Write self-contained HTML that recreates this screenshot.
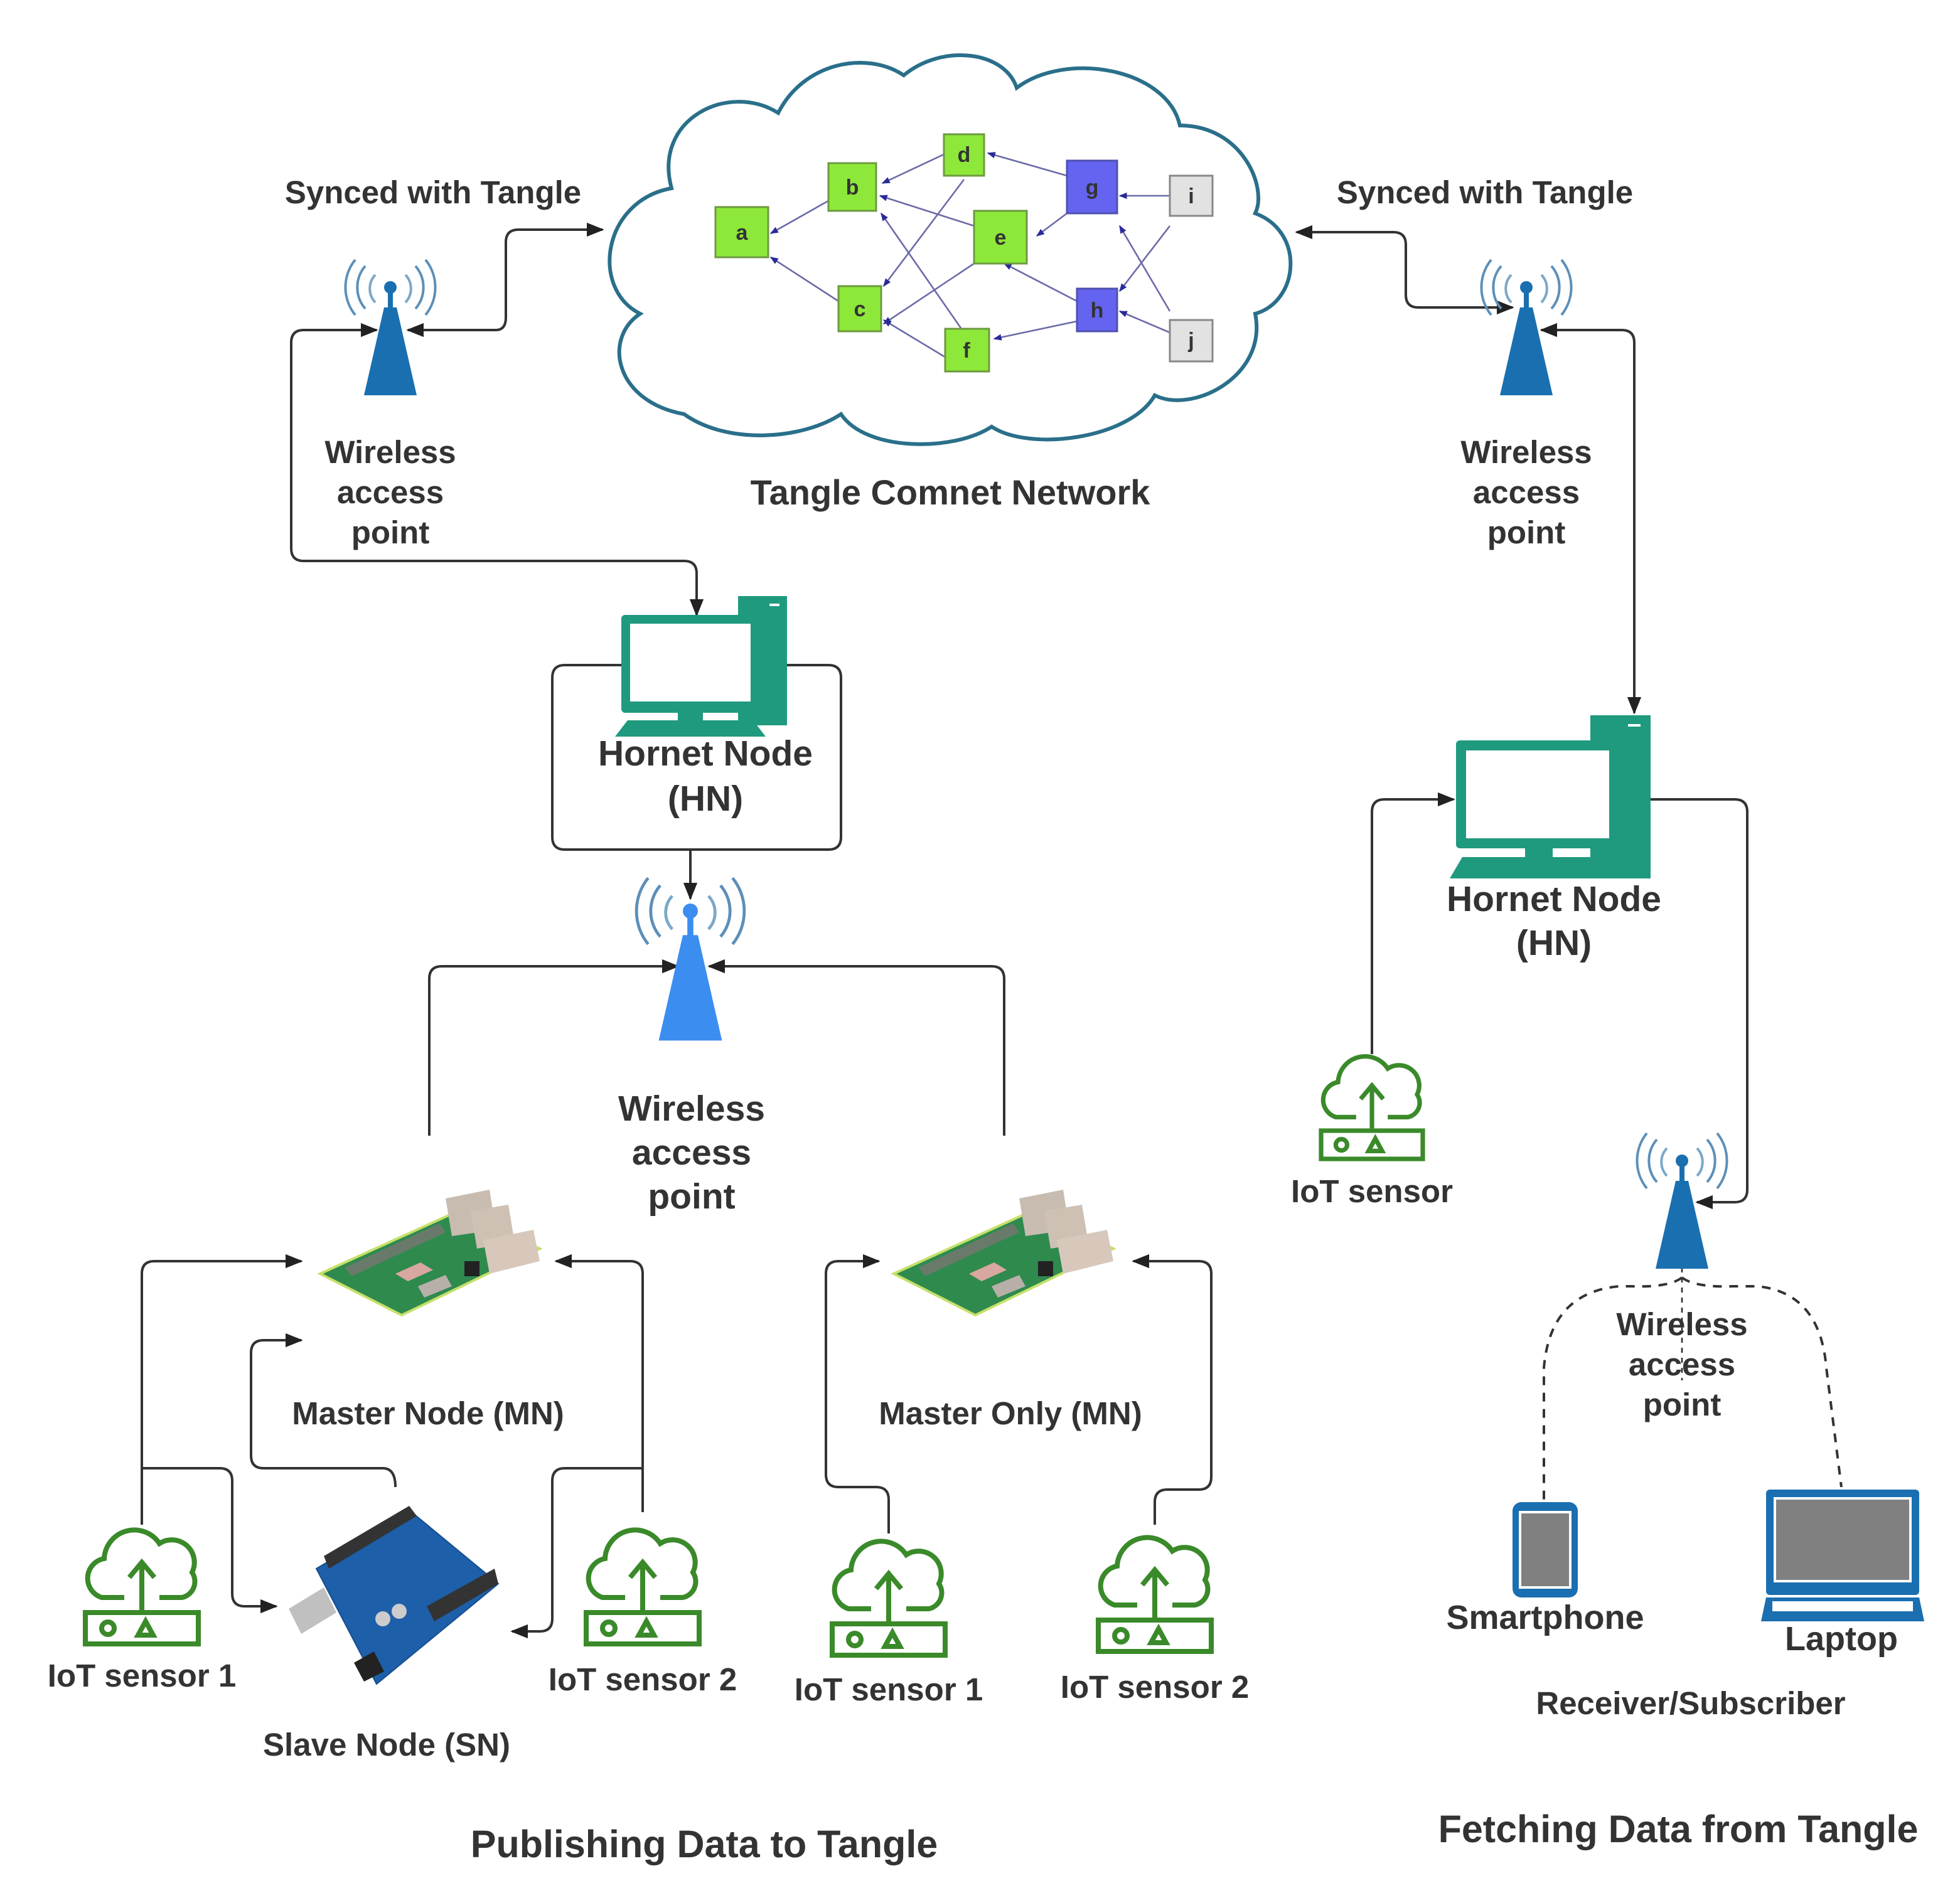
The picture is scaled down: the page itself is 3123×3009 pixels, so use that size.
<!DOCTYPE html>
<html><head><meta charset="utf-8"><style>
html,body{margin:0;padding:0;background:#fff;}
svg{display:block;}
text{font-family:"Liberation Sans",sans-serif;font-weight:bold;fill:#333;text-anchor:middle;}
</style></head><body>
<svg width="3123" height="3009" viewBox="0 0 1561.5 1504.5" xmlns="http://www.w3.org/2000/svg">
<defs>
<marker id="ar" viewBox="0 0 10 10" refX="9" refY="5" markerWidth="7" markerHeight="7" orient="auto-start-reverse"><path d="M0,1 L10,5 L0,9 z" fill="#222"/></marker>
<marker id="sa" viewBox="0 0 10 10" refX="9" refY="5" markerWidth="5" markerHeight="5" orient="auto"><path d="M0,1 L10,5 L0,9 z" fill="#2a2a9a"/></marker>
<g id="sensor" fill="none" stroke="#3a8a2a" stroke-width="4">
<path d="M-14,-12 H-32 A16,16 0 0 1 -30,-43 A24,24 0 0 1 14,-55 A18,18 0 0 1 40,-32 A13,13 0 0 1 32,-12 H14"/>
<line x1="0" y1="-2" x2="0" y2="-38"/><polyline points="-10,-28 0,-40 10,-28"/>
<rect x="-45" y="0" width="90" height="25"/><circle cx="-27" cy="12.5" r="5"/><polygon points="-3,18 9,18 3,7"/>
</g>
<g id="tower">
<g fill="none" stroke-width="2">
<path d="M-12,-10 A16,16 0 0 0 -12,12" stroke="#7aa8c8"/><path d="M12,-10 A16,16 0 0 1 12,12" stroke="#7aa8c8"/>
<path d="M-20,-17 A26,26 0 0 0 -20,17" stroke="#5c8fb8"/><path d="M20,-17 A26,26 0 0 1 20,17" stroke="#5c8fb8"/>
<path d="M-28,-22 A35,35 0 0 0 -28,22" stroke="#5c8fb8"/><path d="M28,-22 A35,35 0 0 1 28,22" stroke="#5c8fb8"/>
</g>
<circle cx="0" cy="0" r="5"/><rect x="-2" y="0" width="4" height="18"/>
<polygon points="-5,16 5,16 21,86 -21,86"/>
</g>
<g id="pi">
<polygon points="0,55 110,5 175,35 65,88" fill="#2f8a4e" stroke="#c6e06a" stroke-width="2"/>
<polygon points="20,50 95,15 100,22 25,57" fill="#6a7a6a"/>
<polygon points="60,55 80,46 90,52 70,61" fill="#d8a8a0"/>
<polygon points="100,-5 135,-12 140,20 105,25" fill="#c8bcb0"/>
<polygon points="120,5 150,0 155,30 125,35" fill="#cfc0b4"/>
<polygon points="130,28 170,20 175,45 135,55" fill="#d8c8bc"/>
<polygon points="78,65 100,56 105,65 83,74" fill="#b8b0a8"/>
<rect x="115" y="45" width="12" height="12" fill="#222"/>
</g>
</defs>

<path d="M545,330 C490,320 480,270 510,250 C470,230 480,160 535,150 C520,95 580,65 620,90 C640,50 690,40 720,60 C750,35 800,40 810,70 C850,40 930,55 940,100 C990,100 1010,150 1000,170 C1040,185 1035,240 1000,250 C1010,300 950,330 920,315 C900,350 820,360 790,340 C760,360 690,360 670,330 C640,350 580,355 545,330 Z" fill="#fff" stroke="#2a6f8a" stroke-width="3"/>
<g stroke="#6a6aa8" stroke-width="1.3" marker-end="url(#sa)">
<line x1="752" y1="123" x2="703" y2="146"/>
<line x1="660" y1="160" x2="614" y2="186"/>
<line x1="668" y1="240" x2="614" y2="205"/>
<line x1="850" y1="140" x2="787" y2="122"/>
<line x1="776" y1="180" x2="701" y2="156"/>
<line x1="768" y1="265" x2="702" y2="170"/>
<line x1="768" y1="143" x2="704" y2="228"/>
<line x1="776" y1="210" x2="704" y2="258"/>
<line x1="762" y1="290" x2="704" y2="255"/>
<line x1="858" y1="240" x2="800" y2="210"/>
<line x1="858" y1="256" x2="792" y2="270"/>
<line x1="850" y1="170" x2="826" y2="188"/>
<line x1="932" y1="156" x2="892" y2="156"/>
<line x1="932" y1="180" x2="892" y2="232"/>
<line x1="932" y1="265" x2="892" y2="248"/>
<line x1="932" y1="248" x2="892" y2="180"/>
</g>
<g stroke="#6c9a40" stroke-width="1.5">
<rect x="570" y="165" width="42" height="40" fill="#8ee83a"/><rect x="660" y="130" width="38" height="38" fill="#8ee83a"/>
<rect x="668" y="228" width="34" height="36" fill="#8ee83a"/><rect x="752" y="107" width="32" height="33" fill="#8ee83a"/>
<rect x="776" y="168" width="42" height="42" fill="#8ee83a"/><rect x="753" y="262" width="35" height="34" fill="#8ee83a"/>
<rect x="850" y="128" width="40" height="42" fill="#6464f0" stroke="#5050b0"/><rect x="858" y="230" width="32" height="34" fill="#6464f0" stroke="#5050b0"/>
<rect x="932" y="140" width="34" height="32" fill="#e2e2e2" stroke="#888"/><rect x="932" y="255" width="34" height="33" fill="#e2e2e2" stroke="#888"/>
</g>
<g font-size="17" style="fill:#111">
<text x="591" y="191">a</text><text x="679" y="155">b</text><text x="685" y="252">c</text><text x="768" y="129">d</text>
<text x="797" y="195">e</text><text x="770" y="285">f</text><text x="870" y="155">g</text><text x="874" y="253">h</text>
<text x="949" y="162">i</text><text x="949" y="277">j</text>
</g>

<g fill="none" stroke="#333" stroke-width="2">
<path d="M325,263 H395 Q403,263 403,253 V193 Q403,183 413,183 H480" marker-start="url(#ar)" marker-end="url(#ar)"/>
<path d="M300,263 H242 Q232,263 232,273 V437 Q232,447 242,447 H545 Q555,447 555,457 V490" marker-start="url(#ar)" marker-end="url(#ar)"/>
<path d="M495,530 H450 Q440,530 440,540 V667 Q440,677 450,677 H660 Q670,677 670,667 V540 Q670,530 660,530 H627"/>
<path d="M550,677 V716" marker-end="url(#ar)"/>
<path d="M342,905 V780 Q342,770 352,770 H540" marker-end="url(#ar)"/>
<path d="M800,905 V780 Q800,770 790,770 H565" marker-end="url(#ar)"/>
<path d="M113,1215 V1015 Q113,1005 123,1005 H240" marker-end="url(#ar)"/>
<path d="M113,1170 H175 Q185,1170 185,1180 V1270 Q185,1280 195,1280 H220" marker-end="url(#ar)"/>
<path d="M315,1185 Q315,1170 305,1170 H210 Q200,1170 200,1160 V1078 Q200,1068 210,1068 H240" marker-end="url(#ar)"/>
<path d="M512,1205 V1015 Q512,1005 502,1005 H443" marker-end="url(#ar)"/>
<path d="M512,1170 H450 Q440,1170 440,1180 V1290 Q440,1300 430,1300 H408" marker-end="url(#ar)"/>
<path d="M708,1222 V1195 Q708,1185 698,1185 H668 Q658,1185 658,1175 V1015 Q658,1005 668,1005 H700" marker-end="url(#ar)"/>
<path d="M920,1215 V1197 Q920,1187 930,1187 H955 Q965,1187 965,1177 V1015 Q965,1005 955,1005 H903" marker-end="url(#ar)"/>
<path d="M1205,245 H1130 Q1120,245 1120,235 V195 Q1120,185 1110,185 H1033" marker-start="url(#ar)" marker-end="url(#ar)"/>
<path d="M1228,263 H1292 Q1302,263 1302,273 V568" marker-start="url(#ar)" marker-end="url(#ar)"/>
<path d="M1093,840 V647 Q1093,637 1103,637 H1158" marker-end="url(#ar)"/>
<path d="M1315,637 H1382 Q1392,637 1392,647 V948 Q1392,958 1382,958 H1352" marker-end="url(#ar)"/>
<g stroke-dasharray="7,6">
<path d="M1340,1018 Q1330,1026 1300,1025 H1290 Q1235,1030 1230,1090 V1195"/>
<path d="M1340,1018 Q1350,1026 1380,1025 H1400 Q1450,1030 1455,1090 L1467,1185"/>
<path d="M1340,1010 V1100" stroke-dasharray="4,4" stroke-width="1.3"/>
</g>
</g>

<use href="#tower" x="311" y="229" fill="#1a6fb0"/>
<use href="#tower" x="1216" y="229" fill="#1a6fb0"/>
<use href="#tower" x="1340" y="925" fill="#1a6fb0"/>
<g transform="translate(550,726) scale(1.2)" fill="#3b8ef0"><use href="#tower"/></g>

<g fill="#1f9a7e">
<rect x="588" y="475" width="39" height="103"/><rect x="613" y="481" width="8" height="2" fill="#fff"/>
<rect x="495" y="490" width="110" height="78" rx="3"/><rect x="502" y="497" width="96" height="62" fill="#fff"/>
<rect x="540" y="568" width="20" height="6"/><polygon points="500,574 600,574 610,587 490,587"/>
<rect x="1267" y="570" width="48" height="130"/><rect x="1297" y="577" width="10" height="2" fill="#fff"/>
<rect x="1160" y="590" width="130" height="86" rx="3"/><rect x="1168" y="598" width="114" height="70" fill="#fff"/>
<rect x="1215" y="676" width="22" height="7"/><polygon points="1165,683 1290,683 1300,700 1155,700"/>
</g>

<use href="#pi" x="255" y="960"/>
<use href="#pi" x="712" y="960"/>

<!-- arduino -->
<polygon points="252,1250 328,1205 397,1262 300,1342" fill="#1d5fa8" stroke="#164e90" stroke-width="1"/>
<polygon points="258,1240 326,1200 332,1208 262,1250" fill="#333"/>
<polygon points="340,1280 394,1250 397,1262 346,1292" fill="#333"/>
<polygon points="230,1282 258,1265 268,1285 240,1302" fill="#c0c0c0"/>
<polygon points="282,1325 298,1316 306,1332 290,1340" fill="#222"/>
<circle cx="305" cy="1290" r="6" fill="#ccc"/><circle cx="318" cy="1284" r="6" fill="#ccc"/>

<use href="#sensor" x="113" y="1285"/>
<use href="#sensor" x="512" y="1285"/>
<use href="#sensor" x="708" y="1294"/>
<use href="#sensor" x="920" y="1291"/>
<g transform="translate(1093,901) scale(0.9)"><use href="#sensor"/></g>

<g fill="#1a6fb0">
<rect x="1205" y="1197" width="52" height="76" rx="7"/><rect x="1210" y="1204" width="42" height="62" fill="#fff"/><rect x="1212" y="1206" width="38" height="58" fill="#808080"/>
<rect x="1407" y="1187" width="122" height="84" rx="3"/><rect x="1413" y="1193" width="110" height="68" fill="#fff"/><rect x="1415" y="1195" width="106" height="64" fill="#808080"/>
<polygon points="1407,1273 1529,1273 1533,1292 1403,1292"/><rect x="1412" y="1276" width="112" height="8" fill="#fff"/>
</g>

<g font-size="25.5">
<text x="345" y="162">Synced with Tangle</text>
<text x="1183" y="162">Synced with Tangle</text>
<text x="311" y="369">Wireless</text><text x="311" y="401">access</text><text x="311" y="433">point</text>
<text x="1216" y="369">Wireless</text><text x="1216" y="401">access</text><text x="1216" y="433">point</text>
<text x="757" y="402" font-size="28">Tangle Comnet Network</text>
<text x="562" y="610" font-size="28.5">Hornet Node</text><text x="562" y="646" font-size="28.5">(HN)</text>
<text x="1238" y="726" font-size="28.5">Hornet Node</text><text x="1238" y="761" font-size="28.5">(HN)</text>
<text x="551" y="893" font-size="28.5">Wireless</text><text x="551" y="928" font-size="28.5">access</text><text x="551" y="963" font-size="28.5">point</text>
<text x="1093" y="958">IoT sensor</text>
<text x="1340" y="1064">Wireless</text><text x="1340" y="1096">access</text><text x="1340" y="1128">point</text>
<text x="341" y="1135">Master Node (MN)</text>
<text x="805" y="1135">Master Only (MN)</text>
<text x="113" y="1344">IoT sensor 1</text>
<text x="512" y="1347">IoT sensor 2</text>
<text x="708" y="1355">IoT sensor 1</text>
<text x="920" y="1353">IoT sensor 2</text>
<text x="308" y="1399">Slave Node (SN)</text>
<text x="1231" y="1298" font-size="27">Smartphone</text>
<text x="1467" y="1315" font-size="27">Laptop</text>
<text x="1347" y="1366">Receiver/Subscriber</text>
<text x="561" y="1480" font-size="30.5">Publishing Data to Tangle</text>
<text x="1337" y="1468" font-size="30.5">Fetching Data from Tangle</text>
</g>
</svg>
</body></html>
